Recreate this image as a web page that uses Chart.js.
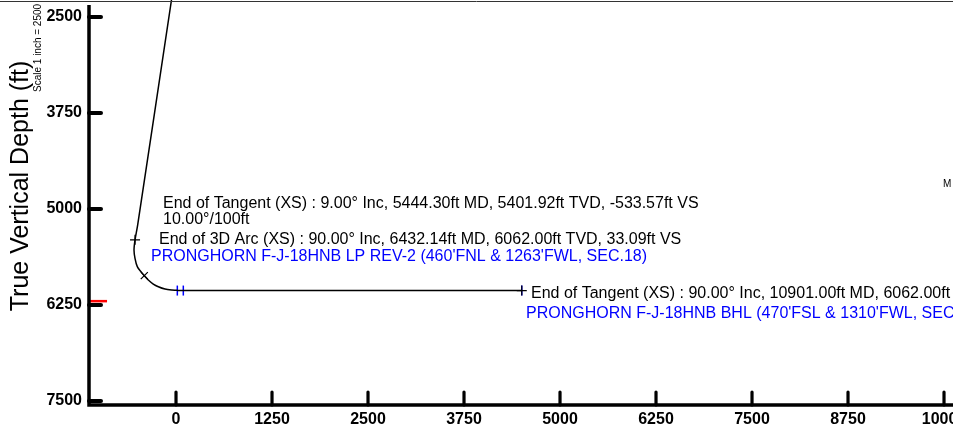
<!DOCTYPE html>
<html>
<head>
<meta charset="utf-8">
<script src="https://cdn.jsdelivr.net/npm/chart.js@4.4.1/dist/chart.umd.min.js"></script>
<style>
    body { margin: 0; background: #fff; }
    #wrap { width: 953px; height: 427px; position: relative; }
</style>
</head>
<body>
<div id="wrap"><canvas id="wellChart"></canvas></div>
<script>
// wellpath, vertical section (ft) vs true vertical depth (ft)
const pathVS = [-59, -499, -533.57, -547, -534, -504, -456, -413, -361, -296, -230, -143, -56, 9, 33.09, 4502];
const pathTVD = [2279, 5208, 5401.92, 5534, 5642, 5751, 5816, 5868, 5924, 5977, 6012, 6042, 6055, 6059, 6062, 6062];

// survey markers on the path
const markVS = [-533.57, -413, 4502];
const markTVD = [5401.92, 5868, 6062];

// target markers (LP and BHL)
const targetVS = [17, 95, 4502];
const targetTVD = [6062, 6062, 6062];

// red formation mark at the depth axis
const redVS = [-1120, -898];
const redTVD = [6200, 6200];

const xTicks = [0, 1250, 2500, 3750, 5000, 6250, 7500, 8750, 10000];
const yTicks = [2500, 3750, 5000, 6250, 7500];

const labelFont = '"Liberation Sans", Arial, sans-serif';

// text annotations: [text, colour, left x, baseline y]
const notes = [
    ["End of Tangent (XS) : 9.00\u00b0 Inc, 5444.30ft MD, 5401.92ft TVD, -533.57ft VS", "#000", 163, 208],
    ["10.00\u00b0/100ft", "#000", 163, 224],
    ["End of 3D Arc (XS) : 90.00\u00b0 Inc, 6432.14ft MD, 6062.00ft TVD, 33.09ft VS", "#000", 159, 244],
    ["PRONGHORN F-J-18HNB LP REV-2 (460'FNL & 1263'FWL, SEC.18)", "#0000ff", 151, 260.5],
    ["End of Tangent (XS) : 90.00\u00b0 Inc, 10901.00ft MD, 6062.00ft TVD", "#000", 531, 298],
    ["PRONGHORN F-J-18HNB BHL (470'FSL & 1310'FWL, SEC.18)", "#0000ff", 526, 317.5],
];

const zip = (xs, ys) => xs.map((x, i) => ({ x: x, y: ys[i] }));

const decorations = {
    id: "decorations",
    afterDraw(chart) {
        const ctx = chart.ctx;
        const area = chart.chartArea;
        const xs = chart.scales.x;
        const ys = chart.scales.y;
        ctx.save();

        // thin border along the top
        ctx.strokeStyle = "#333";
        ctx.lineWidth = 1;
        ctx.beginPath();
        ctx.moveTo(0, 1.5);
        ctx.lineTo(953, 1.5);
        ctx.stroke();

        // axis lines
        ctx.strokeStyle = "#000";
        ctx.lineWidth = 3.5;
        ctx.beginPath();
        ctx.moveTo(area.left + 1, 5);
        ctx.lineTo(area.left + 1, area.bottom + 1.7);
        ctx.moveTo(area.left - 0.7, area.bottom);
        ctx.lineTo(area.right, area.bottom);
        ctx.stroke();

        // tick marks pointing into the plot
        ctx.lineCap = "round";
        ctx.lineWidth = 4;
        ys.ticks.forEach((t) => {
            const py = ys.getPixelForValue(t.value);
            ctx.beginPath();
            ctx.moveTo(area.left + 1, py);
            ctx.lineTo(area.left + 13, py);
            ctx.stroke();
        });
        ctx.lineWidth = 3.2;
        xs.ticks.forEach((t) => {
            const px = xs.getPixelForValue(t.value);
            ctx.beginPath();
            ctx.moveTo(px, area.bottom);
            ctx.lineTo(px, area.bottom - 13);
            ctx.stroke();
        });

        // annotations
        ctx.font = "16px " + labelFont;
        ctx.textAlign = "left";
        ctx.textBaseline = "alphabetic";
        notes.forEach((n) => {
            ctx.fillStyle = n[1];
            ctx.fillText(n[0], n[2], n[3]);
        });
        ctx.fillStyle = "#000";
        ctx.font = "10px " + labelFont;
        ctx.fillText("M", 943, 187);

        // axis title
        ctx.save();
        ctx.translate(28, 186);
        ctx.rotate(-Math.PI / 2);
        ctx.textAlign = "center";
        ctx.font = "25px " + labelFont;
        ctx.fillText("True Vertical Depth (ft)", 0, 0);
        ctx.restore();

        // scale note
        ctx.save();
        ctx.translate(41, 92);
        ctx.rotate(-Math.PI / 2);
        ctx.textAlign = "left";
        ctx.font = "10px " + labelFont;
        ctx.fillText("Scale 1 inch = 2500", 0, 0);
        ctx.restore();

        ctx.restore();
    },
};

new Chart(document.getElementById("wellChart"), {
    type: "scatter",
    data: {
        datasets: [
            {
                label: "Wellpath",
                data: zip(pathVS, pathTVD),
                showLine: true,
                borderColor: "#000",
                borderWidth: 1.5,
                pointRadius: 0,
                tension: 0.3,
            },
            {
                label: "Survey points",
                data: zip(markVS, markTVD),
                pointStyle: ["cross", "crossRot", "cross"],
                pointRadius: 5,
                borderColor: "#000",
                borderWidth: 1.2,
            },
            {
                label: "Targets",
                data: zip(targetVS, targetTVD),
                pointStyle: "line",
                rotation: 90,
                pointRadius: 5,
                borderColor: "#0000ff",
                borderWidth: 1.5,
            },
            {
                label: "Formation",
                data: zip(redVS, redTVD),
                showLine: true,
                borderColor: "#ff0000",
                borderWidth: 2.5,
                pointRadius: 0,
            },
        ],
    },
    options: {
        responsive: true,
        maintainAspectRatio: false,
        animation: false,
        layout: { padding: 0, autoPadding: false },
        plugins: {
            legend: { display: false },
            tooltip: { enabled: false },
        },
        scales: {
            x: {
                type: "linear",
                min: -1146,
                max: 10117,
                grid: { display: false, drawTicks: false },
                border: { display: false },
                afterBuildTicks: (scale) => {
                    scale.ticks = xTicks.map((v) => ({ value: v }));
                },
                afterFit: (scale) => {
                    scale.height = 22;
                    scale.paddingLeft = 0;
                    scale.paddingRight = 0;
                },
                ticks: {
                    autoSkip: false,
                    maxRotation: 0,
                    padding: 5,
                    color: "#000",
                    font: { family: labelFont, size: 16, weight: "bold" },
                    callback: (v) => String(v),
                },
            },
            y: {
                type: "linear",
                reverse: true,
                min: 2279,
                max: 7552,
                grid: { display: false, drawTicks: false },
                border: { display: false },
                afterBuildTicks: (scale) => {
                    scale.ticks = yTicks.map((v) => ({ value: v }));
                },
                afterFit: (scale) => {
                    scale.width = 88;
                    scale.paddingTop = 0;
                    scale.paddingBottom = 0;
                },
                ticks: {
                    autoSkip: false,
                    padding: 6,
                    color: "#000",
                    font: { family: labelFont, size: 16, weight: "bold" },
                    callback: (v) => String(v),
                },
            },
        },
    },
    plugins: [decorations],
});
</script>
</body>
</html>
